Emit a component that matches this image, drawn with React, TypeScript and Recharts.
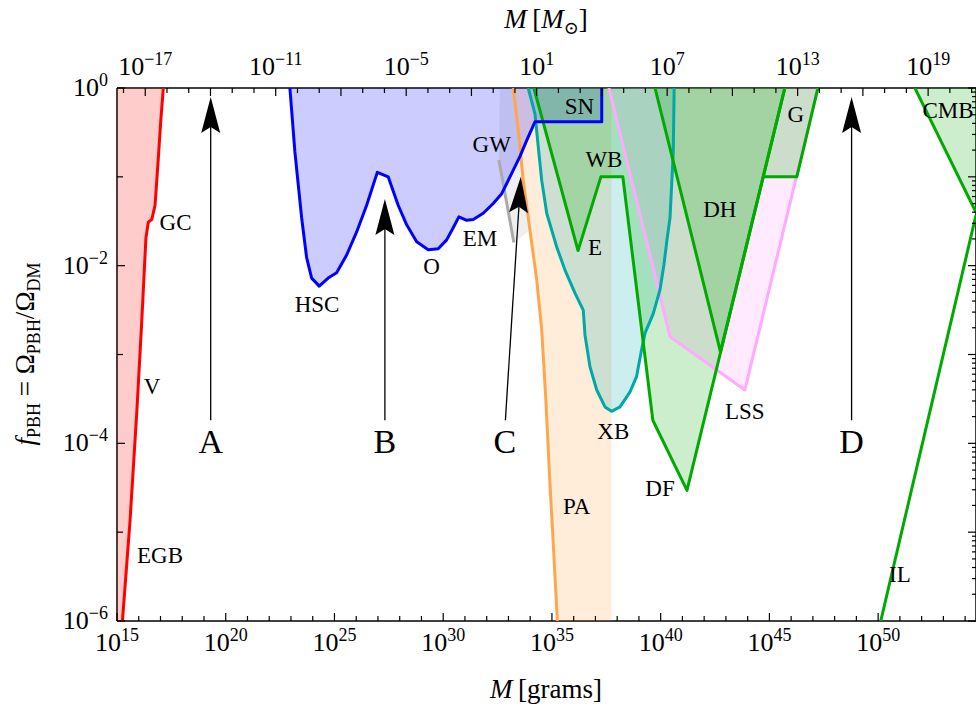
import React from 'react';
import { ComposedChart, Scatter, XAxis, YAxis } from 'recharts';

type Pt = [number, number];

// log10 of the solar mass in grams, links the gram axis to the M_sun axis
const LOG_MSUN = 33.2987;

// ticks, all in log10 units
const massTicks = [15, 16, 17, 18, 19, 20, 21, 22, 23, 24, 25, 26, 27, 28, 29, 30, 31, 32, 33, 34, 35, 36, 37, 38, 39, 40, 41, 42, 43, 44, 45, 46, 47, 48, 49, 50, 51, 52, 53, 54];
const massLabels = [15, 20, 25, 30, 35, 40, 45, 50];
const solarTicks = [-18, -17, -16, -15, -14, -13, -12, -11, -10, -9, -8, -7, -6, -5, -4, -3, -2, -1, 0, 1, 2, 3, 4, 5, 6, 7, 8, 9, 10, 11, 12, 13, 14, 15, 16, 17, 18, 19, 20, 21];
const solarLabels = [-17, -11, -5, 1, 7, 13, 19];
const fracTicks = [-6, -5, -4, -3, -2, -1, 0];
const fracLabels = [-6, -4, -2, 0];
const minorFactors = [1, 2, 3, 4, 5, 6, 7, 8, 9];

// constraint boundaries: [log10 M/g, log10 f_PBH]
const evaporation: Pt[] = [[15.25, -6], [15.6, -4.87], [15.91, -3.65], [16.14, -2.62], [16.33, -1.69], [16.44, -1.51], [16.6, -1.48], [16.75, -1.32], [16.9, -0.79], [17.01, -0.38], [17.13, 0]];
const lensing: Pt[] = [[22.95, 0], [23.18, -0.72], [23.49, -1.46], [23.72, -1.91], [23.95, -2.14], [24.3, -2.23], [24.71, -2.14], [25.1, -2.08], [25.56, -1.88], [26.02, -1.62], [26.48, -1.32], [26.97, -0.95], [27.47, -1.0], [27.93, -1.32], [28.32, -1.54], [28.78, -1.73], [29.31, -1.82], [29.77, -1.81], [30.16, -1.71], [30.49, -1.56], [30.72, -1.45], [31.08, -1.49], [31.38, -1.48], [31.84, -1.41], [32.3, -1.3], [32.69, -1.19], [33.07, -1.0], [33.53, -0.77], [33.84, -0.59], [34.22, -0.38], [37.29, -0.38], [37.29, 0]];
const accretion: Pt[] = [[33.22, 0], [33.45, -0.47], [33.68, -1.04], [33.99, -1.6], [34.3, -2.16], [34.53, -2.72], [34.72, -3.51], [34.9, -4.41], [35.09, -5.26], [35.25, -6]];
const accretionEdge = 37.74;
const gravWaves: Pt[] = [[32.56, -0.81], [33.25, -1.74]];
const xrayBinaries: Pt[] = [[33.91, 0], [34.22, -0.29], [34.37, -0.66], [34.53, -1.04], [34.76, -1.41], [35.22, -1.79], [35.6, -2.05], [36.06, -2.31], [36.44, -2.5], [36.52, -2.78], [36.75, -3.14], [37.06, -3.4], [37.44, -3.59], [37.74, -3.64], [38.13, -3.59], [38.59, -3.42], [38.89, -3.25], [39.12, -2.95], [39.28, -2.76], [39.66, -2.54], [39.97, -2.27], [40.15, -1.99], [40.29, -1.71], [40.43, -1.46], [40.58, -0.72], [40.62, 0]];
const dynamics: Pt[] = [[34.17, 0], [36.2, -1.83], [37.25, -1.0], [38.26, -1.0], [39.64, -3.74], [41.21, -4.53], [45.71, 0]];
const diskHeating: Pt[] = [[39.74, 0], [42.75, -2.97], [45.71, 0]];
const galaxies: Pt[] = [[44.72, -1.0], [46.26, -1.0], [47.23, 0]];
const largeScale: Pt[] = [[37.62, 0], [40.43, -2.8], [43.87, -3.4], [47.23, 0]];
const cmbDistortion: Pt[] = [[51.69, 0], [54.5, -1.4]];
const incredulity: Pt[] = [[50.12, -6], [54.5, -1.43]];

// mass windows A-D, given in solar masses: [log10 M/M_sun, log10 f_PBH]
const arrows: Pt[][] = [
  [[-13.99, -3.74], [-13.99, -0.1]],
  [[-5.98, -3.74], [-5.98, -1.25]],
  [[-0.44, -3.74], [0.27, -1.0]],
  [[15.48, -3.74], [15.48, -0.1]],
];
const arrowTags = [
  { name: 'A', x: -13.99, y: -3.98 },
  { name: 'B', x: -5.98, y: -3.98 },
  { name: 'C', x: -0.46, y: -3.98 },
  { name: 'D', x: 15.48, y: -3.98 },
];

const regionTags = [
  { name: 'EGB', x: 16.98, y: -5.26 },
  { name: 'V', x: 16.61, y: -3.36 },
  { name: 'GC', x: 17.69, y: -1.51 },
  { name: 'HSC', x: 24.2, y: -2.44 },
  { name: 'O', x: 29.47, y: -2.01 },
  { name: 'EM', x: 31.69, y: -1.69 },
  { name: 'GW', x: 32.23, y: -0.64 },
  { name: 'SN', x: 36.26, y: -0.21 },
  { name: 'WB', x: 37.39, y: -0.81 },
  { name: 'E', x: 36.98, y: -1.8 },
  { name: 'XB', x: 37.82, y: -3.87 },
  { name: 'PA', x: 36.14, y: -4.71 },
  { name: 'DF', x: 39.97, y: -4.51 },
  { name: 'DH', x: 42.72, y: -1.37 },
  { name: 'G', x: 46.22, y: -0.3 },
  { name: 'LSS', x: 43.87, y: -3.64 },
  { name: 'CMB', x: 53.21, y: -0.25 },
  { name: 'IL', x: 51.0, y: -5.48 },
];

const X_DOMAIN: [number, number] = [15, 54.5];
const PLOT = { left: 117, right: 976, top: 88, bottom: 621 };
const SERIF = '"Liberation Serif", "DejaVu Serif", serif';

const rightTicks = [
  ...fracTicks.slice(0, -1).flatMap((d) => minorFactors.map((k) => d + Math.log10(k))),
  0,
];

const rows = (pts: Pt[]) => pts.map(([x, y]) => ({ x, y }));
const toPath = (pts: { x: number; y: number }[], closed: boolean) =>
  pts.map((q, i) => `${i === 0 ? 'M' : 'L'}${q.x.toFixed(2)},${q.y.toFixed(2)}`).join(' ') + (closed ? ' Z' : '');
const noDot = () => <g />;

const patch = (key: string, pts: Pt[], fill: string) => (
  <Scatter
    key={key}
    data={rows(pts)}
    isAnimationActive={false}
    shape={noDot}
    line={(p: any) => <path d={toPath(p.points, true)} fill={fill} stroke="none" />}
  />
);

const edge = (key: string, pts: Pt[], stroke: string, width = 3) => (
  <Scatter
    key={key}
    data={rows(pts)}
    isAnimationActive={false}
    shape={noDot}
    line={(p: any) => (
      <path d={toPath(p.points, false)} fill="none" stroke={stroke} strokeWidth={width} strokeLinejoin="round" />
    )}
  />
);

const arrowLine = (p: any) => {
  const [a, b] = p.points;
  const dx = b.x - a.x;
  const dy = b.y - a.y;
  const len = Math.hypot(dx, dy);
  const ux = dx / len;
  const uy = dy / len;
  const bx = b.x - ux * 36;
  const by = b.y - uy * 36;
  const hw = 9.5;
  return (
    <g>
      <line x1={a.x} y1={a.y} x2={bx + ux * 6} y2={by + uy * 6} stroke="#000" strokeWidth={1.3} />
      <path
        d={`M${b.x},${b.y} L${bx - uy * hw},${by + ux * hw} L${bx + ux * 6},${by + uy * 6} L${bx + uy * hw},${by - ux * hw} Z`}
        fill="#000"
      />
    </g>
  );
};

const tagShape = (size: number) => (p: any) => (
  <text x={p.cx} y={p.cy} textAnchor="middle" dominantBaseline="central" fontFamily={SERIF} fontSize={size} fill="#000">
    {p.payload.name}
  </text>
);

const expText = (v: number) => (v < 0 ? `\u2212${-v}` : `${v}`);

const Power = ({ x, y, v, anchor }: { x: number; y: number; v: number; anchor: 'middle' | 'end' }) => (
  <text x={x} y={y} textAnchor={anchor} fontFamily={SERIF} fontSize={26} fill="#000">
    10
    <tspan dy={-10} fontSize={18}>
      {expText(v)}
    </tspan>
  </text>
);

const bottomTick = (p: any) => {
  const v = Math.round(p.payload.value);
  const lab = massLabels.includes(v);
  return (
    <g>
      <line x1={p.x} x2={p.x} y1={PLOT.bottom} y2={PLOT.bottom - (lab ? 8 : 5)} stroke="#000" strokeWidth={1.2} />
      {lab && <Power x={p.x} y={PLOT.bottom + 30} v={v} anchor="middle" />}
    </g>
  );
};

const topTick = (p: any) => {
  const v = Math.round(p.payload.value);
  const lab = solarLabels.includes(v);
  const major = ((v % 3) + 3) % 3 === 1;
  return (
    <g>
      <line x1={p.x} x2={p.x} y1={PLOT.top} y2={PLOT.top + (major ? 8 : 5)} stroke="#000" strokeWidth={1.2} />
      {lab && <Power x={p.x} y={PLOT.top - 13} v={v} anchor="middle" />}
    </g>
  );
};

const leftTick = (p: any) => {
  const v = Math.round(p.payload.value);
  const lab = fracLabels.includes(v);
  return (
    <g>
      <line x1={PLOT.left} x2={PLOT.left + (lab ? 8 : 6)} y1={p.y} y2={p.y} stroke="#000" strokeWidth={1.2} />
      {lab && <Power x={PLOT.left - 9} y={p.y + 8} v={v} anchor="end" />}
    </g>
  );
};

const rightTick = (p: any) => {
  const v = p.payload.value;
  const major = Math.abs(v - Math.round(v)) < 1e-6;
  return <line x1={PLOT.right} x2={PLOT.right - (major ? 8 : 4)} y1={p.y} y2={p.y} stroke="#000" strokeWidth={1.2} />;
};

const bottomTitle = () => (
  <text x={546} y={698} textAnchor="middle" fontFamily={SERIF} fontSize={27} fill="#000">
    <tspan fontStyle="italic">M</tspan>
    {'\u2009[grams]'}
  </text>
);

const topTitle = () => (
  <text x={546} y={28} textAnchor="middle" fontFamily={SERIF} fontSize={27} fill="#000">
    <tspan fontStyle="italic">M</tspan>
    {'\u2009['}
    <tspan fontStyle="italic">M</tspan>
    <tspan fontSize={18} dy={6}>
      ⊙
    </tspan>
    <tspan dy={-6}>]</tspan>
  </text>
);

const leftTitle = () => (
  <text transform="translate(34 354) rotate(-90)" textAnchor="middle" fontFamily={SERIF} fontSize={27} fill="#000">
    <tspan fontStyle="italic">f</tspan>
    <tspan fontSize={18} dy={6}>PBH</tspan>
    <tspan dy={-6}>{' = Ω'}</tspan>
    <tspan fontSize={18} dy={6}>PBH</tspan>
    <tspan dy={-6}>/Ω</tspan>
    <tspan fontSize={18} dy={6}>DM</tspan>
  </text>
);

const axisLine = { stroke: '#000', strokeWidth: 1.5 };

export default function App() {
  return (
    <div style={{ position: 'fixed', left: 0, top: 0, width: 976, height: 711, overflow: 'hidden', background: '#fff' }}>
      <ComposedChart width={1000} height={711} margin={{ top: 30, right: 0, bottom: 20, left: 37 }}>
        {/* fills */}
        {patch('pa', [...accretion, [accretionEdge, -6], [accretionEdge, 0]], 'rgba(255,153,51,0.18)')}
        {patch('gw', [[32.61, 0], ...gravWaves, ...accretion.slice(0, 4).reverse()], 'rgba(128,128,128,0.13)')}
        {patch('ev', [...evaporation, [15, 0], [15, -6]], 'rgba(255,0,0,0.2)')}
        {patch('lens', lensing, 'rgba(0,0,255,0.2)')}
        {patch('xb', xrayBinaries, 'rgba(0,170,170,0.2)')}
        {patch('lss', largeScale, 'rgba(255,136,255,0.18)')}
        {patch('dyn', dynamics, 'rgba(0,170,0,0.2)')}
        {patch('dh', diskHeating, 'rgba(0,170,0,0.2)')}
        {patch('g', [...galaxies, [45.71, 0]], 'rgba(0,170,0,0.2)')}
        {patch('cmb', [...cmbDistortion, [54.5, 0]], 'rgba(0,170,0,0.2)')}

        {/* boundaries */}
        {edge('lss-l', largeScale, '#ffaaff')}
        {edge('xb-l', xrayBinaries, '#00a8a8')}
        {edge('pa-l', accretion, '#ffa64d')}
        {edge('gw-l', gravWaves, '#aaaaaa')}
        {edge('dyn-l', dynamics, '#00aa00')}
        {edge('dh-l', diskHeating, '#00aa00')}
        {edge('g-l', galaxies, '#00aa00')}
        {edge('lens-l', lensing, '#0000ff')}
        {edge('ev-l', evaporation, '#ff0000')}
        {edge('il-l', incredulity, '#00aa00')}
        {edge('cmb-l', cmbDistortion, '#00aa00')}
        <Scatter data={regionTags} isAnimationActive={false} shape={tagShape(23)} />

        {/* mass windows, on the solar-mass axis */}
        {arrows.map((a, i) => (
          <Scatter
            key={`arrow-${i}`}
            xAxisId="top"
            data={rows(a)}
            isAnimationActive={false}
            shape={noDot}
            line={arrowLine}
          />
        ))}
        <Scatter xAxisId="top" data={arrowTags} isAnimationActive={false} shape={tagShape(34)} />

        <XAxis
          dataKey="x"
          type="number"
          domain={X_DOMAIN}
          allowDataOverflow
          ticks={massTicks}
          interval={0}
          tick={bottomTick}
          tickLine={false}
          tickSize={0}
          tickMargin={0}
          axisLine={axisLine}
          height={70}
          label={bottomTitle}
        />
        <XAxis
          xAxisId="top"
          dataKey="x"
          orientation="top"
          type="number"
          domain={[X_DOMAIN[0] - LOG_MSUN, X_DOMAIN[1] - LOG_MSUN]}
          allowDataOverflow
          ticks={solarTicks}
          interval={0}
          tick={topTick}
          tickLine={false}
          tickSize={0}
          tickMargin={0}
          axisLine={axisLine}
          height={58}
          label={topTitle}
        />
        <YAxis
          dataKey="y"
          type="number"
          domain={[-6, 0]}
          allowDataOverflow
          ticks={fracTicks}
          interval={0}
          tick={leftTick}
          tickLine={false}
          tickSize={0}
          tickMargin={0}
          axisLine={axisLine}
          width={80}
          label={leftTitle}
        />
        <YAxis
          yAxisId="right"
          orientation="right"
          type="number"
          domain={[-6, 0]}
          allowDataOverflow
          ticks={rightTicks}
          interval={0}
          tick={rightTick}
          tickLine={false}
          tickSize={0}
          tickMargin={0}
          axisLine={axisLine}
          width={24}
        />
      </ComposedChart>
    </div>
  );
}
